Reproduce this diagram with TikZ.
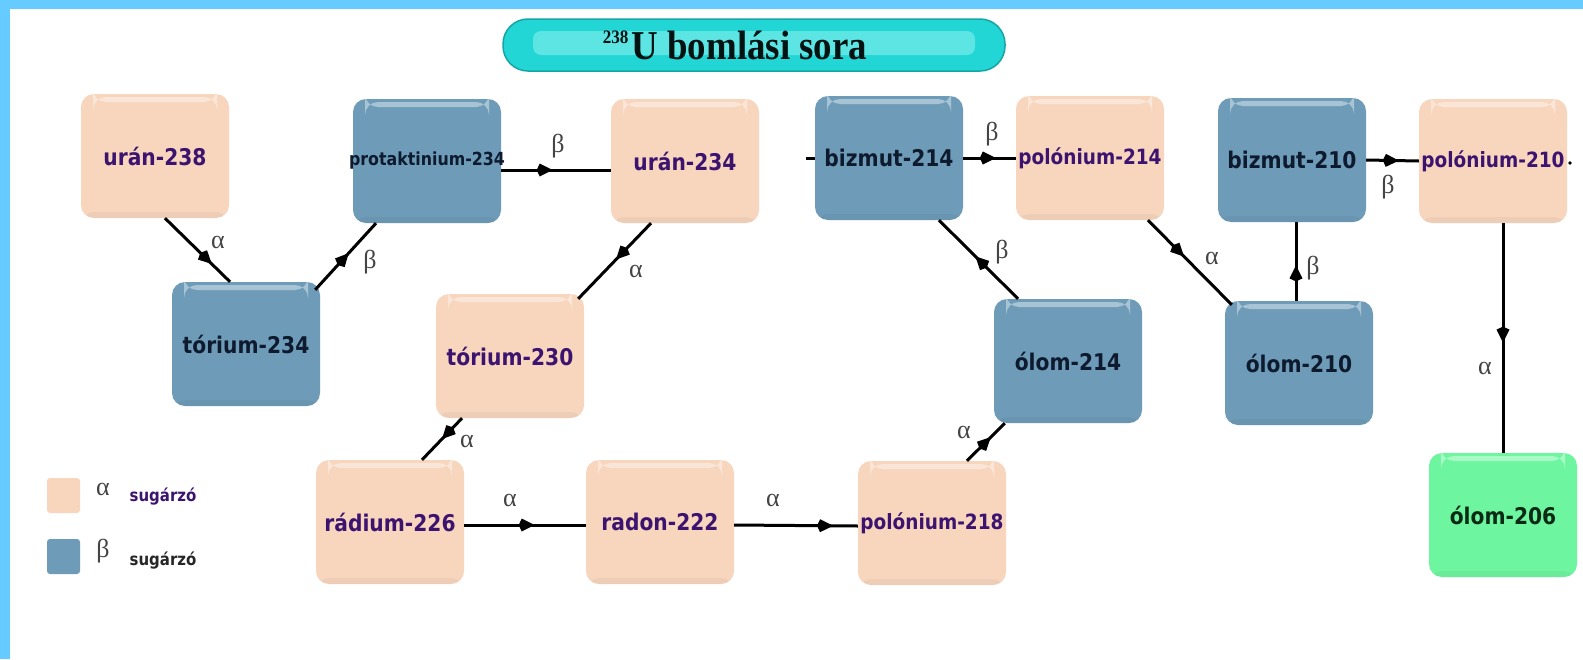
\documentclass[tikz,border=0pt]{standalone}
\usepackage{fontspec}
\setmainfont{Liberation Serif}
\newfontfamily\nf[FakeStretch=0.88]{DejaVu Sans}
\newfontfamily\tf[FakeStretch=0.9]{Liberation Serif}
\usetikzlibrary{arrows.meta,decorations.markings,calc}
\definecolor{peach}{HTML}{F8D6BE}
\definecolor{bluebox}{HTML}{6E9CB8}
\definecolor{greenbox}{HTML}{6EF5A0}
\definecolor{framecol}{HTML}{66CCFF}
\definecolor{pilcol}{HTML}{22D6D6}
\definecolor{pilhi}{HTML}{8EF2F0}
\definecolor{pilbd}{HTML}{15A5A5}
\definecolor{purptext}{HTML}{3C1470}
\definecolor{navytext}{HTML}{0E1A2E}
\definecolor{greentext}{HTML}{0D2A14}
\definecolor{labcol}{HTML}{444444}
\newcommand\nt[1]{\makebox[0pt]{#1}}
\newcommand\smallnt[1]{\makebox[0pt]{\fontsize{21}{21}\selectfont #1}}
\tikzset{
  nbox/.style={rectangle, rounded corners=13pt, minimum width=148pt, minimum height=124pt, inner sep=0pt,
    font=\nf\bfseries\fontsize{23}{23}\selectfont,
    path picture={
      \fill[white,opacity=0.4] ([shift={(12pt,-3pt)}]path picture bounding box.north west) rectangle ([shift={(-12pt,-8pt)}]path picture bounding box.north east);
      \fill[black,opacity=0.04] ([shift={(0pt,6pt)}]path picture bounding box.south west) rectangle (path picture bounding box.south east);
    }},
  pbox/.style={nbox, fill=peach, text=purptext},
  bbox/.style={nbox, fill=bluebox, text=navytext},
  gbox/.style={nbox, fill=greenbox, text=greentext},
  conn/.style={line width=3pt, black},
  tipat/.style={postaction={decorate, decoration={markings, mark=at position #1 with {\arrow{Kite[length=16pt,width=13pt,inset=3pt]}}}}},
  lab/.style={font=\fontsize{26}{26}\selectfont, text=labcol, inner sep=0pt},
  legbox/.style={rectangle, rounded corners=3pt, minimum width=33pt, minimum height=35pt, inner sep=0pt},
  legtext/.style={font=\nf\bfseries\fontsize{17}{17}\selectfont, inner sep=0pt},
}
\begin{document}
\begin{tikzpicture}[x=1pt,y=-1pt]
\useasboundingbox (0,0) rectangle (1583,659);
\fill[white] (0,0) rectangle (1583,659);
\fill[framecol] (0,0) rectangle (1583,9);
\fill[framecol] (0,0) rectangle (10,659);

% title
\node[rectangle, rounded corners=25pt, minimum width=502pt, minimum height=52pt, inner sep=0pt,
  fill=pilcol, draw=pilbd, line width=1.5pt, text=black!85!teal,
  path picture={\fill[pilhi,opacity=0.55,rounded corners=8pt] ([shift={(30pt,-12pt)}]path picture bounding box.north west) rectangle ([shift={(-30pt,16pt)}]path picture bounding box.south east);}]
  (title) at (754,45) {\tf\bfseries\fontsize{41}{41}\selectfont\raisebox{16pt}{\fontsize{19}{19}\selectfont\bfseries 238}\kern3pt U bomlási sora\hspace*{38pt}};

% nodes
\node[pbox] (u238) at (155,156) {\nt{urán-238}};
\node[bbox] (pa234) at (427,161) {\nt{\fontsize{18}{18}\selectfont protaktinium-234}};
\node[pbox] (u234) at (685,161) {\nt{urán-234}};
\node[bbox] (bi214) at (889,158) {\nt{bizmut-214}};
\node[pbox] (po214) at (1090,158) {\smallnt{polónium-214}};
\node[bbox] (bi210) at (1292,160) {\nt{bizmut-210}};
\node[pbox] (po210) at (1493,161) {\smallnt{polónium-210}};
\node[bbox] (th234) at (246,344) {\nt{tórium-234}};
\node[pbox] (th230) at (510,356) {\nt{tórium-230}};
\node[bbox] (pb214) at (1068,361) {\nt{ólom-214}};
\node[bbox] (pb210) at (1299,363) {\nt{ólom-210}};
\node[pbox] (ra226) at (390,522) {\nt{rádium-226}};
\node[pbox] (rn222) at (660,522) {\nt{radon-222}};
\node[pbox] (po218) at (932,523) {\smallnt{polónium-218}};
\node[gbox] (pb206) at (1503,515) {\nt{ólom-206}};

% connectors
\draw[conn, tipat=0.72] ([xshift=10pt]u238.south) -- ([xshift=-16pt]th234.north);
\draw[conn, tipat=0.55] ([shift={(-5pt,-8pt)}]th234.north east) -- ([xshift=-51pt]pa234.south);
\draw[conn, tipat=0.47] ([yshift=-9pt]pa234.east) -- ([yshift=-9pt]u234.west);
\draw[conn, tipat=0.48] ([xshift=-34pt]u234.south) -- ([shift={(-6pt,-5pt)}]th230.north east);
\draw[conn, tipat=0.5] ([xshift=-48pt]th230.south) -- ([xshift=32pt]ra226.north);
\draw[conn, tipat=0.58] ([yshift=-3pt]ra226.east) -- ([yshift=-3pt]rn222.west);
\draw[conn, tipat=0.8] ([yshift=-3pt]rn222.east) -- ([yshift=-3pt]po218.west);
\draw[conn, tipat=0.63] ([xshift=35pt]po218.north) -- ([xshift=11pt]pb214.south west);
\draw[conn, tipat=0.54] ([xshift=-50pt]pb214.north) -- ([xshift=50pt]bi214.south);
\draw[conn, tipat=0.62] (bi214.east) -- (po214.west);
\draw[conn, tipat=0.43] ([xshift=58pt]po214.south) -- ([shift={(7pt,-4pt)}]pb210.north west);
\draw[conn, tipat=0.45] ([xshift=-3pt]pb210.north) -- ([xshift=-3pt]pb210.north |- bi210.south);
\draw[conn, tipat=0.62] (bi210.east) -- (po210.west);
\draw[conn, tipat=0.52] ([xshift=10pt]po210.south) -- (pb206.north);
\coordinate (stub) at (806,158);
\draw[conn] (stub) -- (bi214.west);
\coordinate (dot) at (1570,163);
\fill (dot) circle (1.8pt);

% labels
\node[lab] (l1) at (218,242) {α};
\node[lab] (l2) at (370,262) {β};
\node[lab] (l3) at (558,146) {β};
\node[lab] (l4) at (636,271) {α};
\node[lab] (l5) at (467,441) {α};
\node[lab] (l6) at (510,500) {α};
\node[lab] (l7) at (773,500) {α};
\node[lab] (l8) at (964,432) {α};
\node[lab] (l9) at (1002,252) {β};
\node[lab] (l10) at (992,134) {β};
\node[lab] (l11) at (1212,258) {α};
\node[lab] (l12) at (1313,268) {β};
\node[lab] (l13) at (1388,187) {β};
\node[lab] (l14) at (1485,368) {α};

% legend
\node[legbox, fill=peach] (lega) at (63.5,495.5) {};
\node[legbox, fill=bluebox] (legb) at (63.5,556.5) {};
\node[lab] (lalpha) at (103,489) {α};
\node[lab] (lbeta) at (103,551) {β};
\node[legtext, text=purptext] (ta) at (163,497) {sugárzó};
\node[legtext, text=black!85] (tb) at (163,561) {sugárzó};
\end{tikzpicture}
\end{document}
